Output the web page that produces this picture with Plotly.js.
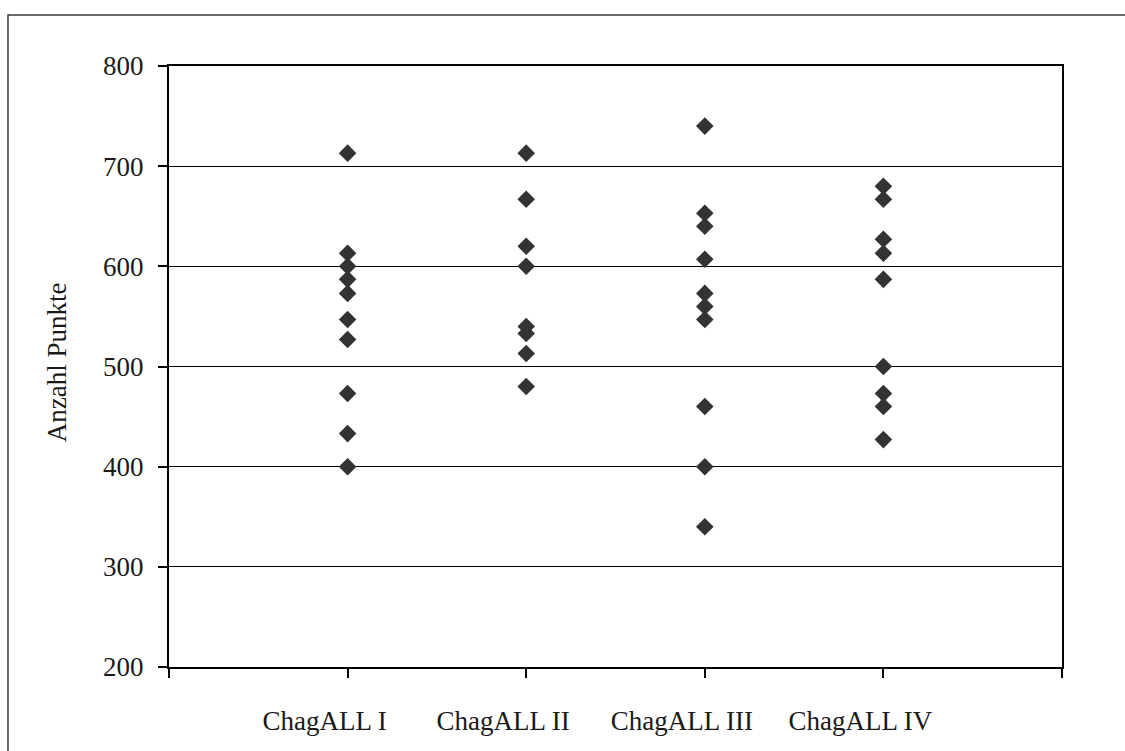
<!DOCTYPE html>
<html>
<head>
<meta charset="utf-8">
<script src="https://cdn.plot.ly/plotly-3.0.1.min.js"></script>
<style>html,body{margin:0;padding:0;background:#fff;}#chart{width:1125px;height:751px;}</style>
</head>
<body>
<div id="chart"></div>
<script>
const categories = ["ChagALL I", "ChagALL II", "ChagALL III", "ChagALL IV"];
const positions = [1, 2, 3, 4];
const groupI = [713, 613, 600, 587, 573, 547, 527, 473, 433, 400];
const groupII = [713, 667, 620, 600, 540, 533, 513, 480];
const groupIII = [740, 653, 640, 607, 573, 560, 547, 460, 400, 340];
const groupIV = [680, 667, 627, 613, 587, 500, 473, 460, 427];
const yTicks = [200, 300, 400, 500, 600, 700, 800];
const yTitle = "Anzahl Punkte";

const groups = [groupI, groupII, groupIII, groupIV];
const xs = [], ys = [];
groups.forEach((g, i) => g.forEach(v => { xs.push(positions[i]); ys.push(v); }));

const font = {family: "'Liberation Serif', 'DejaVu Serif', serif", size: 27, color: "#1a1a1a"};

const trace = {
  type: "scatter", mode: "markers", x: xs, y: ys,
  marker: {symbol: "diamond", size: 13.5, color: "#333333", line: {width: 0}},
  hoverinfo: "skip", showlegend: false
};

const layout = {
  width: 1125, height: 751,
  margin: {l: 169, r: 63, t: 66, b: 84},
  paper_bgcolor: "#ffffff", plot_bgcolor: "#ffffff",
  font: font,
  showlegend: false,
  xaxis: {
    range: [0, 5],
    tickmode: "array",
    tickvals: [0, 1, 2, 3, 4, 5],
    ticktext: ["", categories[0], categories[1], categories[2], categories[3], ""],
    ticks: "outside", ticklen: 9, tickwidth: 2, tickcolor: "#000",
    ticklabelshift: -23, ticklabelstandoff: 20,
    showgrid: false, zeroline: false,
    showline: true, linecolor: "#000", linewidth: 2, mirror: true,
    tickfont: font, fixedrange: true
  },
  yaxis: {
    range: [200, 800],
    tickmode: "array", tickvals: yTicks,
    ticks: "outside", ticklen: 9, tickwidth: 2, tickcolor: "#000",
    ticklabelstandoff: 9,
    showgrid: true, gridcolor: "#000", gridwidth: 1.3,
    zeroline: false,
    showline: true, linecolor: "#000", linewidth: 2, mirror: true,
    tickfont: font, fixedrange: true
  },
  annotations: [{
    text: yTitle, xref: "paper", yref: "paper",
    x: -0.126, y: 0.508, xanchor: "center", yanchor: "middle",
    textangle: -90, showarrow: false, font: font
  }],
  shapes: [{
    type: "rect", xref: "paper", yref: "paper",
    x0: -0.1803, x1: 1.08, y0: -0.16, y1: 1.0849,
    line: {color: "#3a3a3a", width: 1.5}, fillcolor: "rgba(0,0,0,0)", layer: "below"
  }]
};

Plotly.newPlot("chart", [trace], layout, {displayModeBar: false, staticPlot: true});
</script>
</body>
</html>
